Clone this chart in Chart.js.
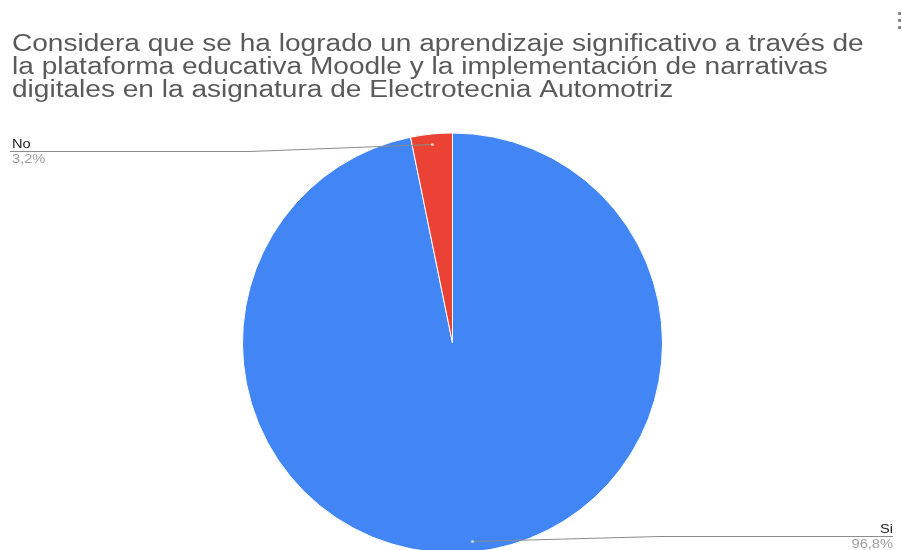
<!DOCTYPE html>
<html>
<head>
<meta charset="utf-8">
<script src="https://cdn.jsdelivr.net/npm/chart.js@4"></script>
<style>
  html, body { margin: 0; padding: 0; background: #fff; }
  #wrap { width: 902px; height: 550px; position: relative; }
</style>
</head>
<body>
<div id="wrap"><canvas id="canvasPie"></canvas></div>
<script>
var categorias = ['Si', 'No'];
var porcentajes = [96.8, 3.2];
var colores = ['#4285F4', '#EA4335'];
var titulo = [
    'Considera que se ha logrado un aprendizaje significativo a través de',
    'la plataforma educativa Moodle y la implementación de narrativas',
    'digitales en la asignatura de Electrotecnia Automotriz'
];

// el texto se ve algo ensanchado
var escalaX = 1.22;

function formatoPct(v, total) {
    return (v / total * 100).toFixed(1).replace('.', ',') + '%';
}

function texto(c, t, x, y, align) {
    c.save();
    c.translate(x, y);
    c.scale(escalaX, 1);
    c.textAlign = align;
    c.fillText(t, 0, 0);
    c.restore();
}

// titulo, menu y etiquetas con linea guia
var decoraciones = {
    id: 'decoraciones',
    afterDraw: function (chart) {
        var c = chart.ctx;
        c.save();
        c.textBaseline = 'alphabetic';

        c.fillStyle = '#5a5a5a';
        c.font = '23px "Liberation Sans", Arial, sans-serif';
        for (var i = 0; i < titulo.length; i++) {
            texto(c, titulo[i], 12, 51 + i * 23, 'left');
        }

        c.fillStyle = '#8a8a8a';
        for (var k = 0; k < 3; k++) {
            c.fillRect(898, 12 + k * 7, 3, 3);
        }

        var meta = chart.getDatasetMeta(0);
        var total = porcentajes.reduce(function (a, b) { return a + b; }, 0);
        var pos = [
            { lado: 'der', x: 893, y: 536, codo: 660 },
            { lado: 'izq', x: 10, y: 151, codo: 250 }
        ];

        meta.data.forEach(function (arc, idx) {
            var p = arc.getProps(['x', 'y', 'startAngle', 'endAngle', 'outerRadius'], true);
            var ang = (p.startAngle + p.endAngle) / 2;
            var r = p.outerRadius * 0.95;
            var px = p.x + Math.cos(ang) * r;
            var py = p.y + Math.sin(ang) * r;
            var L = pos[idx];

            c.strokeStyle = '#8c8c8c';
            c.lineWidth = 1;
            c.beginPath();
            c.moveTo(L.x, L.y + 0.5);
            c.lineTo(L.codo, L.y + 0.5);
            c.lineTo(px, py);
            c.stroke();

            c.fillStyle = 'rgba(255,255,255,0.6)';
            c.beginPath();
            c.arc(px, py, 1.6, 0, Math.PI * 2);
            c.fill();

            c.font = '12px "Liberation Sans", Arial, sans-serif';
            var align = L.lado === 'izq' ? 'left' : 'right';
            var tx = L.lado === 'izq' ? L.x + 2 : L.x;
            c.fillStyle = '#222';
            texto(c, categorias[idx], tx, L.y - 3, align);
            c.fillStyle = '#9e9e9e';
            texto(c, formatoPct(porcentajes[idx], total), tx, L.y + 12, align);
        });

        c.restore();
    }
};

new Chart(document.getElementById('canvasPie'), {
    type: 'pie',
    data: {
        labels: categorias,
        datasets: [{
            data: porcentajes,
            backgroundColor: colores,
            borderColor: '#ffffff',
            borderWidth: 1,
            radius: 210
        }]
    },
    options: {
        responsive: true,
        maintainAspectRatio: false,
        animation: false,
        layout: {
            padding: { top: 136, bottom: 0, left: 3, right: 0 }
        },
        plugins: {
            legend: { display: false },
            tooltip: { enabled: false }
        }
    },
    plugins: [decoraciones]
});
</script>
</body>
</html>
